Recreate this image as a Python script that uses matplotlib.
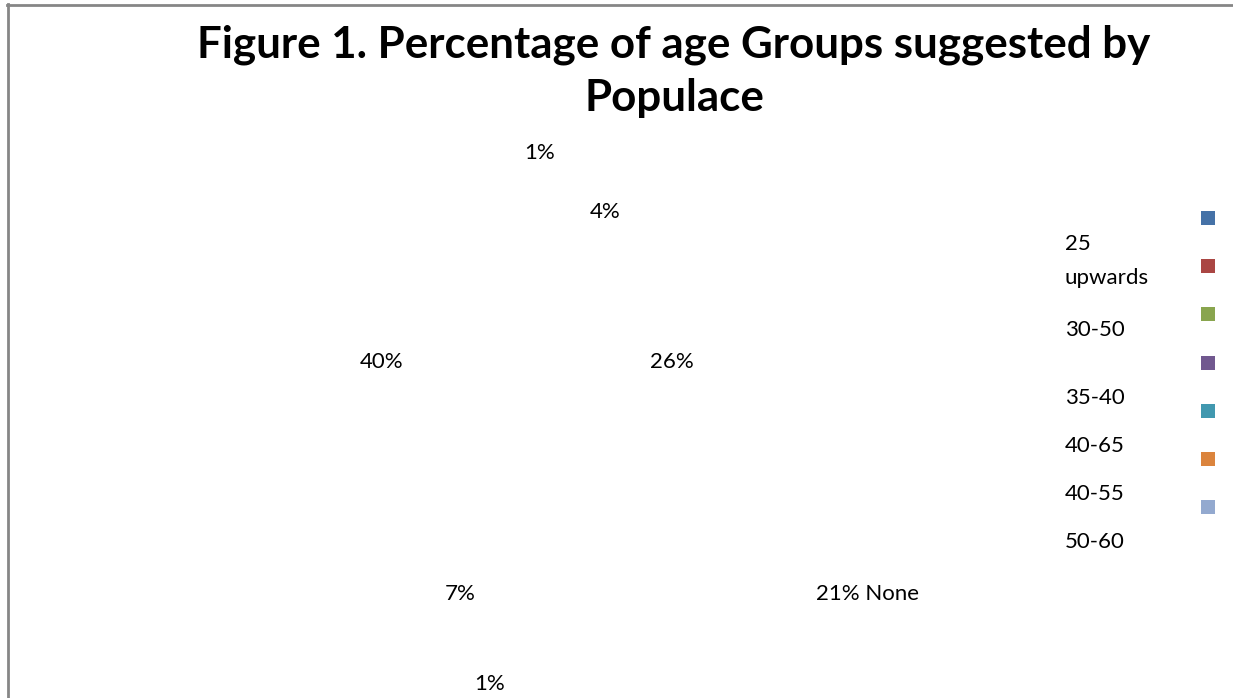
import matplotlib
matplotlib.use("Agg")
import matplotlib.pyplot as plt
from matplotlib.patches import Rectangle
from matplotlib.lines import Line2D

# ---- data ----
categories = ["25 upwards", "30-50", "35-40", "40-65", "40-55", "50-60", "None"]
values = [1, 4, 26, 21, 1, 7, 40]
pct_labels = ["1%", "4%", "26%", "21% None", "1%", "7%", "40%"]
legend_texts = ["25\nupwards", "30-50", "35-40", "40-65", "40-55", "50-60"]
colors = ["#4572A7", "#AA4643", "#89A54E", "#71588F", "#4198AF", "#DB843D", "#93A9CF"]

title = "Figure 1. Percentage of age Groups suggested by\nPopulace"

W, H = 1233, 698
plt.rcParams['font.family'] = ['Lato', 'DejaVu Sans']
fig = plt.figure(figsize=(W / 100, H / 100), dpi=100)
ax = fig.add_axes([0, 0, 1, 1])

# invisible pie (wedges drawn without visible fill, as in the reference)
ax.pie(values, colors=colors, startangle=90, counterclock=False,
       center=(527, 418), radius=200, frame=True,
       wedgeprops=dict(alpha=0.0, linewidth=0))
ax.set_xlim(0, W)
ax.set_ylim(H, 0)
ax.axis('off')

# percentage labels
label_pos = [(540, 153), (605, 212), (672, 362), (867, 594), (490, 684), (460, 594), (382, 362)]
for (x, y), t in zip(label_pos, pct_labels):
    ax.text(x, y, t, ha='center', va='center', fontsize=16, color='black')

# title
ax.text(674, 71, title, ha='center', va='center', fontsize=31.6, fontweight='bold',
        linespacing=1.4)

# legend squares
sq = 14
for i, c in enumerate(colors):
    y = 218 + i * 48.2
    ax.add_patch(Rectangle((1201, y - sq / 2), sq, sq, facecolor=c, edgecolor='none'))

legend_y = [261, 330, 398, 446, 494, 542]
for y, t in zip(legend_y, legend_texts):
    ax.text(1065, y, t, ha='left', va='center', fontsize=16, linespacing=1.9)

# chart border (top and left visible)
ax.add_line(Line2D([7, W + 5], [4.5, 4.5], color='#868686', linewidth=2))
ax.add_line(Line2D([7.5, 7.5], [4, H + 5], color='#868686', linewidth=2))

fig.savefig("out.png", dpi=100)
